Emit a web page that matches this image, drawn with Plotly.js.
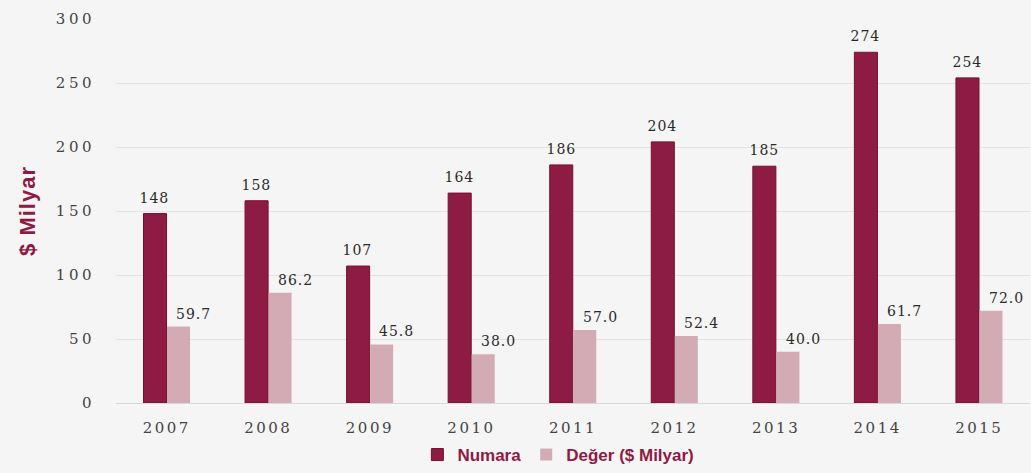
<!DOCTYPE html>
<html><head><meta charset="utf-8">
<script src="https://cdn.plot.ly/plotly-3.0.1.min.js"></script>
<style>
html,body{margin:0;padding:0;background:#f5f5f5;}
#chart{width:1031px;height:473px;}
#chart .xtick text{letter-spacing:2.5px;}
#chart .ytick text{letter-spacing:3.5px;}
#chart .g-ytitle text{letter-spacing:1px;}
#chart .annotation-text{letter-spacing:1px;}
</style>
</head><body><div id="chart"></div>
<script>
var years = ['2007','2008','2009','2010','2011','2012','2013','2014','2015'];
var numara = [148,158,107,164,186,204,185,274,254];
var deger = [59.7,86.2,45.8,38.0,57.0,52.4,40.0,61.7,72.0];
var numaraLabels = ['148','158','107','164','186','204','185','274','254'];
var degerLabels = ['59.7','86.2','45.8','38.0','57.0','52.4','40.0','61.7','72.0'];
var yTicks = [0,50,100,150,200,250,300];

var darkRed = '#8d1b44';
var pink = '#d3abb5';
var labelFont = {family:'DejaVu Serif, serif', size:14, color:'#2a2a2a'};
var traces = [
  {type:'bar', name:'Numara', x:years, y:numara, marker:{color:darkRed, line:{color:'#74112f', width:1}}, hoverinfo:'skip'},
  {type:'bar', name:'Değer ($ Milyar)', x:years, y:deger, marker:{color:pink}, hoverinfo:'skip'}
];
var annotations = [];
years.forEach(function(yr, i){
  annotations.push({x:i, y:numara[i], xref:'x', yref:'y', text:numaraLabels[i], showarrow:false,
    xanchor:'center', yanchor:'bottom', xshift:-12, yshift:6, font:labelFont});
  annotations.push({x:i, y:deger[i], xref:'x', yref:'y', text:degerLabels[i], showarrow:false,
    xanchor:'center', yanchor:'bottom', xshift:27, yshift:3, font:labelFont});
});
var layout = {
  width:1031, height:473,
  paper_bgcolor:'#f5f5f5', plot_bgcolor:'#f5f5f5',
  margin:{l:116, r:1, t:19, b:70},
  barmode:'group', bargap:0.537, bargroupgap:0.02,
  showlegend:true,
  legend:{orientation:'h', x:0.484, xanchor:'center', yref:'container', y:-0.016, yanchor:'bottom',
          font:{family:'Liberation Sans, Arial, sans-serif', size:17, color:darkRed, weight:'bold'},
          bgcolor:'rgba(0,0,0,0)', itemwidth:30, tracegroupgap:0},
  annotations:annotations,
  xaxis:{type:'category', range:[-0.5, 8.5], tickfont:{family:'DejaVu Serif, serif', size:15, color:'#444'}, showline:false, ticks:'', ticklabelstandoff:14},
  yaxis:{range:[0,300], tickvals:yTicks, ticktext:yTicks.map(String), gridcolor:'#e3e3e3', zeroline:true, zerolinecolor:'#d8d8d8',
         tickfont:{family:'DejaVu Serif, serif', size:15, color:'#444'}, ticklabelstandoff:20,
         title:{text:'<b>$ Milyar</b>', font:{family:'Liberation Sans, Arial, sans-serif', size:22, color:darkRed}, standoff:24}}
};
Plotly.newPlot('chart', traces, layout, {displayModeBar:false, staticPlot:true});
</script></body></html>
